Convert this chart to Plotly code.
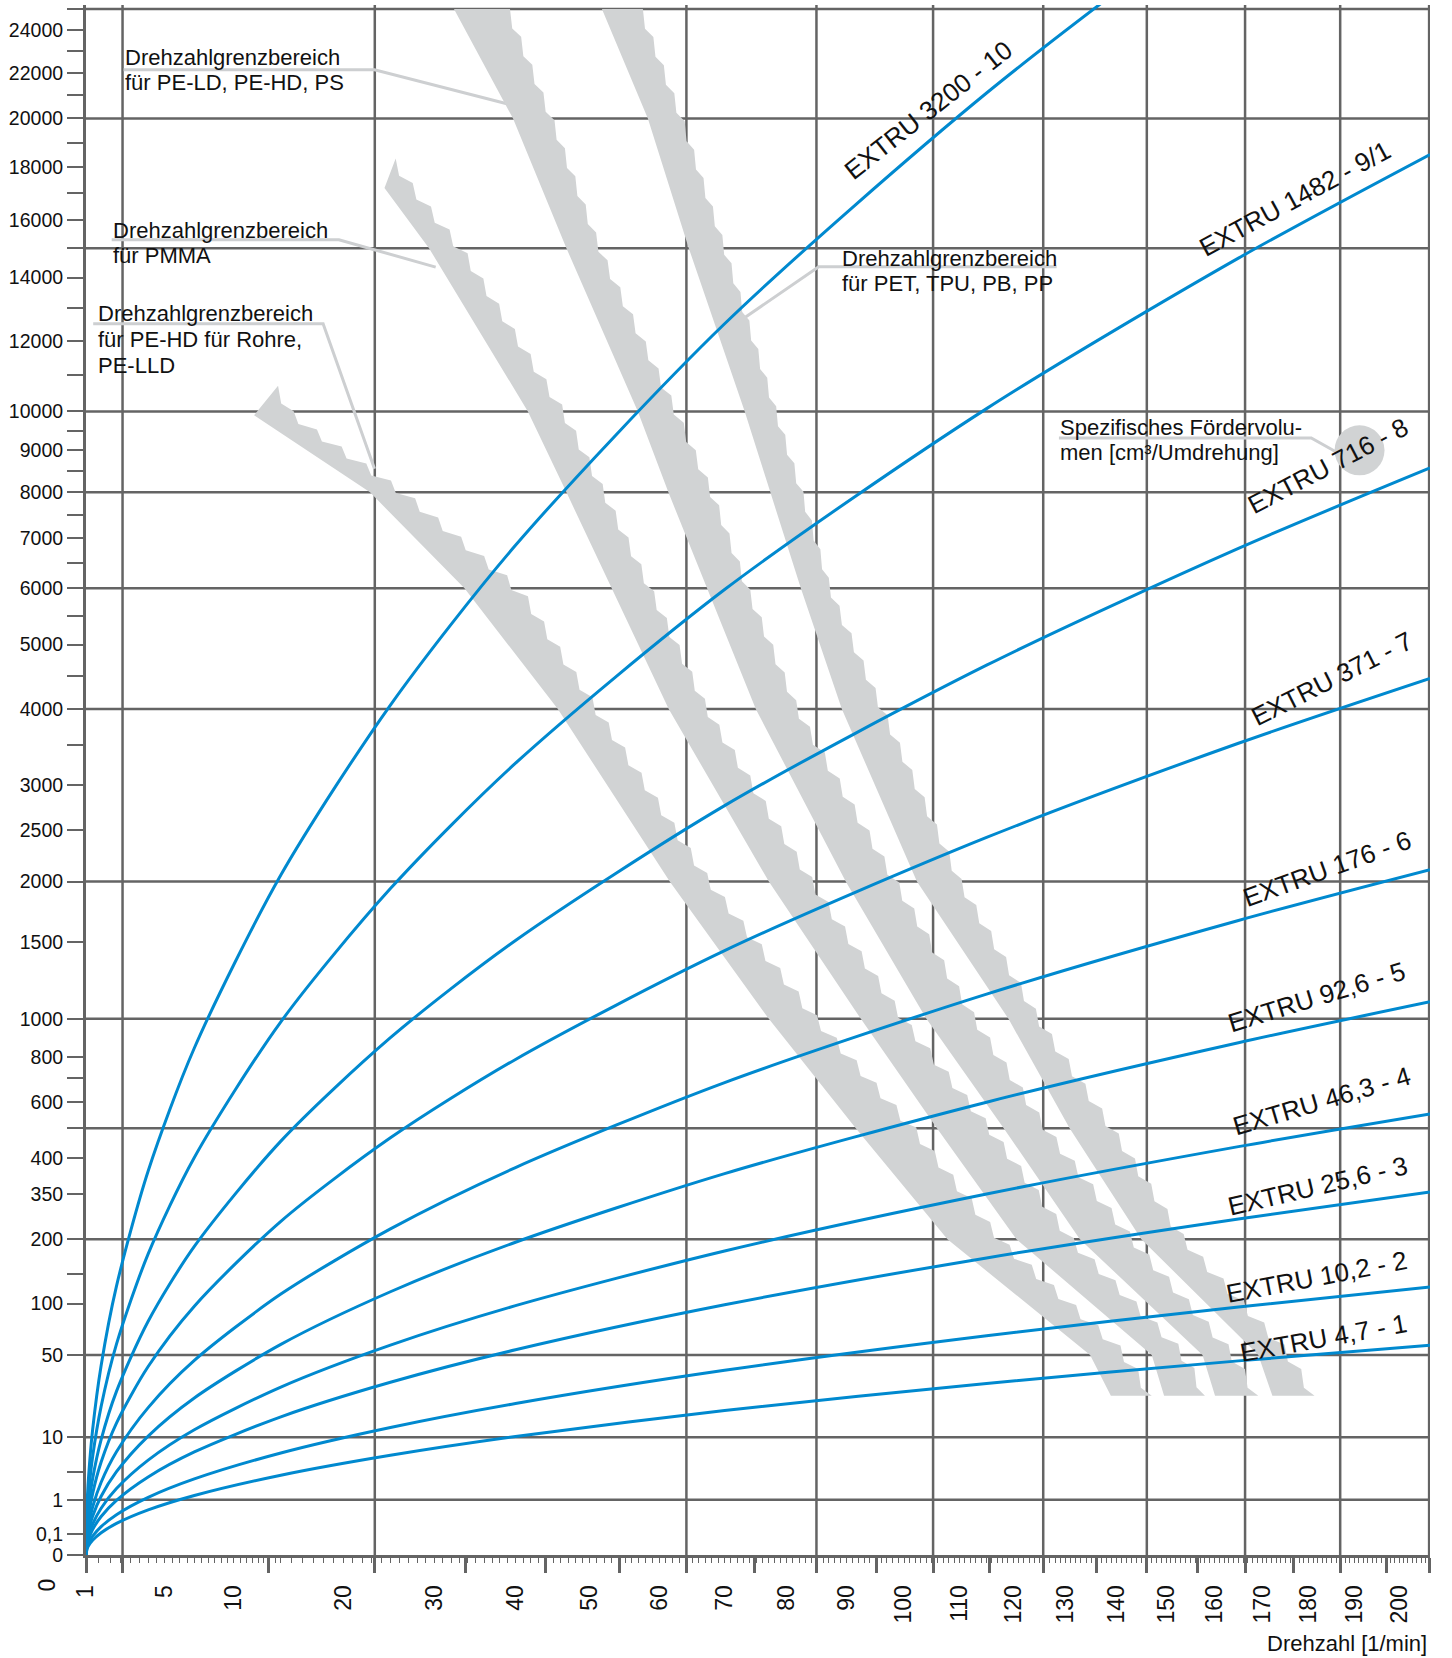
import numpy as np
import plotly.graph_objects as go

# ---------------- data ----------------
extruder_labels = ["EXTRU 3200 - 10", "EXTRU 1482 - 9/1", "EXTRU 716 - 8", "EXTRU 371 - 7",
                   "EXTRU 176 - 6", "EXTRU 92,6 - 5", "EXTRU 46,3 - 4", "EXTRU 25,6 - 3",
                   "EXTRU 10,2 - 2", "EXTRU 4,7 - 1"]

# Drehzahl [1/min] at which the curves were read
rpm_points = [1, 1.04, 1.1, 1.25, 1.6, 2.3, 4, 7, 14, 25, 40, 70, 115, 165, 207]

Q_3200_10 = [0, 0.78, 3.09, 12.0, 42.4, 122.8, 362.7, 843.9, 2059, 4058, 6849, 12516, 21097, 30692, 38772]
Q_1482_9 = [0, 0.372, 1.476, 5.739, 20.24, 58.62, 173.2, 403.0, 983.5, 1937, 3271, 5977, 10074, 14657, 18516]
Q_716_8 = [0, 0.172, 0.684, 2.657, 9.369, 27.14, 80.19, 186.6, 455.3, 897.0, 1514, 2767, 4664, 6785, 8572]
Q_371_7 = [0, 0.0896, 0.3555, 1.381, 4.871, 14.11, 41.70, 97.00, 236.7, 466.4, 787.3, 1439, 2425, 3528, 4457]
Q_176_6 = [0, 0.0424, 0.1682, 0.6536, 2.305, 6.677, 19.73, 45.90, 112.0, 220.7, 372.5, 680.8, 1147, 1669, 2109]
Q_92_6_5 = [0, 0.0221, 0.0877, 0.3409, 1.202, 3.483, 10.29, 23.94, 58.42, 115.1, 194.3, 355.1, 598.5, 870.7, 1100]
Q_46_3_4 = [0, 0.0111, 0.0440, 0.1712, 0.6037, 1.749, 5.167, 12.02, 29.34, 57.80, 97.57, 178.3, 300.5, 437.2, 552.3]
Q_25_6_3 = [0, 0.00614, 0.02436, 0.09467, 0.3338, 0.9670, 2.857, 6.648, 16.22, 31.96, 53.96, 98.60, 166.2, 241.8, 305.4]
Q_10_2_2 = [0, 0.00244, 0.00968, 0.03764, 0.1327, 0.3845, 1.136, 2.643, 6.450, 12.71, 21.45, 39.20, 66.08, 96.13, 121.4]
Q_4_7_1 = [0, 0.00116, 0.00459, 0.01785, 0.06296, 0.1824, 0.5389, 1.254, 3.060, 6.028, 10.18, 18.60, 31.34, 45.60, 57.60]

curve_series = [Q_3200_10, Q_1482_9, Q_716_8, Q_371_7, Q_176_6,
                Q_92_6_5, Q_46_3_4, Q_25_6_3, Q_10_2_2, Q_4_7_1]

# Drehzahlgrenzbereiche: throughput levels and lower / upper speed limit
band_rohre_Q = [10700, 9900, 8000, 6000, 4000, 2000, 1000, 500, 200, 50, 25]
band_rohre_lo = [13.75, 11.66, 22.79, 33.59, 45.60, 61.58, 77.05, 91.58, 107.8, 134.8, 138.9]
band_rohre_hi = [13.75, 15.40, 26.96, 40.96, 51.41, 68.16, 85.48, 102.3, 118.2, 142.9, 147.1]

band_pmma_Q = [18350, 17200, 15000, 10000, 8000, 6000, 4000, 2000, 1000, 500, 200, 50, 25]
band_pmma_lo = [25.58, 24.35, 29.37, 41.61, 46.77, 53.10, 61.43, 77.05, 92.45, 105.9, 120.6, 147.1, 149.6]
band_pmma_hi = [25.58, 27.90, 33.59, 46.77, 52.40, 59.06, 67.69, 84.64, 100.5, 116.3, 131.8, 154.8, 158.0]

band_pe_Q = [25000, 20000, 15000, 10000, 8000, 6000, 4000, 2000, 1000, 500, 200, 50, 25]
band_pe_lo = [32.32, 39.68, 46.77, 56.86, 61.38, 67.24, 74.95, 89.86, 104.0, 118.2, 132.8, 157.5, 160.1]
band_pe_hi = [39.29, 45.07, 51.70, 62.94, 68.40, 73.98, 82.14, 99.07, 113.4, 126.9, 143.9, 164.9, 169.2]

band_pet_Q = [25000, 20000, 15000, 10000, 8000, 6000, 4000, 2000, 1000, 500, 200, 50, 25]
band_pet_lo = [51.70, 58.33, 64.46, 73.18, 77.30, 82.30, 89.19, 102.3, 119.1, 130.8, 145.0, 169.2, 172.2]
band_pet_hi = [57.60, 63.70, 70.34, 78.51, 82.77, 87.50, 96.61, 110.6, 125.4, 139.8, 154.3, 176.9, 181.3]

# axis ticks
y_label_values = [24000, 22000, 20000, 18000, 16000, 14000, 12000, 10000, 9000, 8000, 7000, 6000,
                  5000, 4000, 3000, 2500, 2000, 1500, 1000, 800, 600, 400, 300, 200, 100, 50, 10, 1, 0.05, 0]
y_label_text = ["24000", "22000", "20000", "18000", "16000", "14000", "12000", "10000", "9000", "8000",
                "7000", "6000", "5000", "4000", "3000", "2500", "2000", "1500", "1000", "800", "600",
                "400", "350", "200", "100", "50", "10", "1", "0,1", "0"]
y_minor_values = [25000, 23000, 21000, 19000, 17000, 15000, 13000, 11000, 9500, 8500, 7500, 6500,
                  5500, 4500, 3500, 700, 500, 140, 3.5]
grid_Q = [25000, 20000, 15000, 10000, 8000, 6000, 4000, 2000, 1000, 500, 200, 50, 10, 1]

x_label_values = [1, 5, 10, 20, 30, 40, 50, 60, 70, 80, 90, 100, 110, 120, 130, 140, 150,
                  160, 170, 180, 190, 200]
grid_rpm = [2.6, 23.3, 64.1, 84.9, 105.2, 125.7, 146.1, 166.4, 186.9, 206.8]
mid_tick_rpm = [12.9, 33.75, 44.0, 54.2, 74.8, 95.1, 115.5, 136.1, 156.5, 176.7, 197.2]

# ---------------- scales ----------------
W, H = 1452, 1658
ML, MR, MT, MB = 86, 21.5, 4.5, 103
PW, PH = W - ML - MR, H - MT - MB
PX_EXP, PY_EXP = 0.656, 0.329


def fx(n):
    return np.power(np.asarray(n, dtype=float), PX_EXP)


def fy(q):
    return np.power(np.asarray(q, dtype=float), PY_EXP)


U0, U1 = float(fx(1.0)), float(fx(207.0))
V0, V1 = 0.0, float(fy(25200))
SX, SY = PW / (U1 - U0), PH / (V1 - V0)


def p2d(px, py):
    return U0 + (px - ML) / SX, (H - MB - py) / SY


def p2paper(px, py):
    return (px - ML) / PW, (H - MB - py) / PH


FONT = "Liberation Sans, Arial, sans-serif"
BLUE = "#0089cf"
BAND = "#d1d3d4"
GRID = "#646464"
LEADER = "#cdcfd1"

fig = go.Figure()


def band_polygon(Q, lo, hi, step=30.0):
    v = fy(Q)
    lx, ly = (fx(lo) - U0) * SX, v * SY
    rx, ry = (fx(hi) - U0) * SX, v * SY
    seg = np.hypot(np.diff(rx), np.diff(ry))
    s = np.concatenate([[0.0], np.cumsum(seg)])
    m = max(2, int(round(s[-1] / step)) + 1)
    ss = np.linspace(0, s[-1], m)
    qx, qy = np.interp(ss, s, rx), np.interp(ss, s, ry)
    sx, sy = [qx[0]], [qy[0]]
    for k in range(m - 1):
        x0, y0, x1, y1 = qx[k], qy[k], qx[k + 1], qy[k + 1]
        sx.append(x0 + 0.2 * (x1 - x0)); sy.append(y1 + 0.3 * (y0 - y1))
        sx.append(x1); sy.append(y1)
    X = np.concatenate([lx, np.array(sx)[::-1]])
    Y = np.concatenate([ly, np.array(sy)[::-1]])
    X = np.append(X, X[0]); Y = np.append(Y, Y[0])
    return X / SX + U0, Y / SY


for Q, lo, hi in [(band_rohre_Q, band_rohre_lo, band_rohre_hi),
                  (band_pmma_Q, band_pmma_lo, band_pmma_hi),
                  (band_pe_Q, band_pe_lo, band_pe_hi),
                  (band_pet_Q, band_pet_lo, band_pet_hi)]:
    bx, by = band_polygon(Q, lo, hi)
    fig.add_trace(go.Scatter(x=bx, y=by, mode="lines", fill="toself", fillcolor=BAND,
                             line=dict(width=0, color=BAND), hoverinfo="skip", showlegend=False))

for name, q in zip(extruder_labels, curve_series):
    fig.add_trace(go.Scatter(x=fx(rpm_points), y=fy(q), mode="lines", name=name,
                             line=dict(color=BLUE, width=3, shape="spline", smoothing=0.8),
                             hoverinfo="skip", showlegend=False))

# dummy trace for the label axis
fig.add_trace(go.Scatter(x=[U0], y=[0], xaxis="x2", mode="markers",
                         marker=dict(opacity=0), hoverinfo="skip", showlegend=False))

shapes = []
for q in grid_Q:
    shapes.append(dict(type="line", xref="paper", yref="y", x0=0, x1=1, y0=float(fy(q)), y1=float(fy(q)),
                       line=dict(color=GRID, width=2.5), layer="below"))
for n in grid_rpm:
    shapes.append(dict(type="line", xref="x", yref="paper", x0=float(fx(n)), x1=float(fx(n)), y0=0, y1=1,
                       line=dict(color=GRID, width=2.5), layer="below"))

leaders = [
    [(123.6, 69.3), (374.6, 69.3), (507, 103.3)],
    [(111.7, 239.3), (339, 239.3), (435.8, 266.7)],
    [(93.2, 323.3), (323.2, 323.3), (374.6, 468.3)],
    [(742.6, 318.9), (819, 266.3), (1057, 266.3)],
    [(1059.3, 437.7), (1311.7, 437.7), (1336.7, 451.7)],
]
for pts in leaders:
    d = ""
    for i, (px, py) in enumerate(pts):
        u, v = p2d(px, py)
        d += ("M" if i == 0 else " L") + f"{u:.5f},{v:.5f}"
    shapes.append(dict(type="path", xref="x", yref="y", path=d,
                       line=dict(color=LEADER, width=3), layer="below"))

cu, cv = p2d(1360, 450)
r = 25
shapes.append(dict(type="circle", xref="x", yref="y", x0=cu - r / SX, x1=cu + r / SX,
                   y0=cv - r / SY, y1=cv + r / SY, fillcolor=BAND, line=dict(width=0), layer="below"))

annotations = []
notes = [
    ("Drehzahlgrenzbereich", 123.6, 57.3), ("für PE-LD, PE-HD, PS", 123.6, 82.3),
    ("Drehzahlgrenzbereich", 111.7, 230), ("für PMMA", 111.7, 255),
    ("Drehzahlgrenzbereich", 97, 313.3), ("für PE-HD für Rohre,", 97, 339.3), ("PE-LLD", 97, 365),
    ("Drehzahlgrenzbereich", 841, 257.7), ("für PET, TPU, PB, PP", 841, 283.2),
    ("Spezifisches Fördervolu-", 1059.3, 426.7), ("men [cm³/Umdrehung]", 1059.3, 451.7),
]
for t, px, py in notes:
    xp, yp = p2paper(px, py)
    annotations.append(dict(text=t, x=xp, y=yp, xref="paper", yref="paper", xanchor="left",
                            yanchor="middle", showarrow=False, borderpad=0,
                            font=dict(family=FONT, size=22, color="#111111")))

label_place = [(929, 110, -38.3), (1295, 199, -28.4), (1328, 466, -27.5), (1332, 679, -26.8),
               (1327, 869, -19.9), (1317, 997, -17.0), (1322, 1101, -16.4), (1318, 1186, -13.3),
               (1317, 1277, -10.8), (1324, 1338, -10.3)]
for name, (px, py, ang) in zip(extruder_labels, label_place):
    xp, yp = p2paper(px, py)
    annotations.append(dict(text=name, x=xp, y=yp, xref="paper", yref="paper", xanchor="center",
                            yanchor="middle", textangle=ang, showarrow=False, borderpad=0,
                            font=dict(family=FONT, size=26, color="#111111")))

# the "0" speed label sits left of the plotted range
xp0, yp0 = p2paper(ML + (float(fx(0)) - U0) * SX + 3, 1578)
annotations.append(dict(text="0", x=xp0, y=yp0, xref="paper", yref="paper", xanchor="center",
                        yanchor="top", textangle=-90, showarrow=False, borderpad=0,
                        font=dict(family=FONT, size=23, color="#111111")))
xt, yt = p2paper(1428, 1644)
annotations.append(dict(text="Drehzahl [1/min]", x=xt, y=yt, xref="paper", yref="paper",
                        xanchor="right", yanchor="middle", showarrow=False, borderpad=0,
                        font=dict(family=FONT, size=22, color="#111111")))

minor_rpm = list(np.arange(1.5, 14, 0.5)) + list(range(14, 207))

fig.update_layout(
    width=W, height=H, margin=dict(l=ML, r=MR, t=MT, b=MB, autoexpand=False),
    paper_bgcolor="white", plot_bgcolor="white", hovermode=False, showlegend=False,
    font=dict(family=FONT, color="#111111"),
    xaxis=dict(range=[U0, U1], showline=True, linecolor=GRID, linewidth=3, mirror=False,
               showgrid=False, zeroline=False, ticks="outside", tickmode="array",
               tickvals=list(fx([1] + grid_rpm + mid_tick_rpm)), ticklen=15, tickwidth=2.5,
               tickcolor=GRID, showticklabels=False, automargin=False,
               minor=dict(tickmode="array", tickvals=list(fx(minor_rpm)), ticks="outside",
                          ticklen=5, tickwidth=1.3, tickcolor=GRID, showgrid=False)),
    xaxis2=dict(range=[U0, U1], overlaying="x", anchor="y", side="bottom", showline=False,
                showgrid=False, zeroline=False, ticks="outside", tickmode="array",
                tickvals=list(fx(x_label_values)), ticktext=[str(v) for v in x_label_values],
                ticklen=20, tickcolor="rgba(0,0,0,0)", tickangle=-90, automargin=False,
                tickfont=dict(family=FONT, size=23, color="#111111")),
    yaxis=dict(range=[V0, V1], showline=True, linecolor=GRID, linewidth=3, showgrid=False,
               zeroline=False, ticks="outside", tickmode="array",
               tickvals=list(fy(y_label_values + y_minor_values)),
               ticktext=y_label_text + [""] * len(y_minor_values),
               ticklen=16, tickwidth=2, tickcolor=GRID, automargin=False,
               tickfont=dict(family=FONT, size=19.5, color="#111111")),
    shapes=shapes, annotations=annotations,
)

fig.write_html("out.html")
